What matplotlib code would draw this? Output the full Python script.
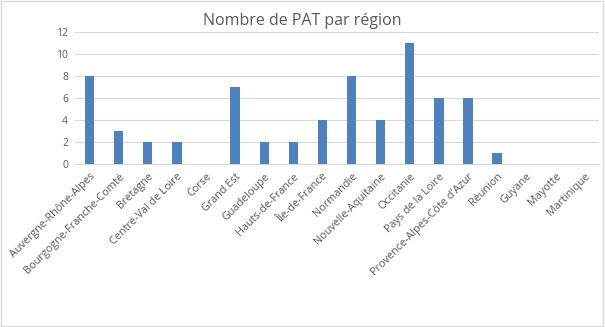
import numpy as np
import matplotlib
matplotlib.use("Agg")
import matplotlib.pyplot as plt
from matplotlib.patches import Rectangle

# data
regions = ["Auvergne-Rhône-Alpes", "Bourgogne-Franche-Comté", "Bretagne",
           "Centre-Val de Loire", "Corse", "Grand Est", "Guadeloupe",
           "Hauts-de-France", "Île-de-France", "Normandie", "Nouvelle-Aquitaine",
           "Occitanie", "Pays de la Loire", "Provence-Alpes-Côte d'Azur",
           "Réunion", "Guyane", "Mayotte", "Martinique"]
counts = [8, 3, 2, 2, 0, 7, 2, 2, 4, 8, 4, 11, 6, 6, 1, 0, 0, 0]
yticks = [0, 2, 4, 6, 8, 10, 12]

plt.rcParams['font.family'] = ['Open Sans', 'DejaVu Sans']
txt = '#595959'

fig = plt.figure(figsize=(6.05, 3.27), dpi=100)
ax = fig.add_axes([0.124, 0.498, 0.866, 0.404])

x = np.arange(len(regions))
ax.bar(x, counts, width=0.32, color='#4F81BD', zorder=3)

ax.set_xlim(-0.5, len(regions) - 0.5)
ax.set_ylim(0, 12)
ax.set_yticks(yticks)
ax.set_yticklabels([str(v) for v in yticks], fontsize=7.5, color=txt)
ax.set_xticks(x)
ax.set_xticklabels(regions, rotation=45, ha='right', rotation_mode='anchor',
                   fontsize=7.8, color=txt)
ax.tick_params(axis='both', length=0, pad=5)
ax.grid(axis='y', color='#d9d9d9', linewidth=0.8, zorder=0)
for s in ['top', 'right', 'left']:
    ax.spines[s].set_visible(False)
ax.spines['bottom'].set_color('#d9d9d9')

fig.text(0.5, 0.937, "Nombre de PAT par région", ha='center', va='center',
         fontsize=11.5, color=txt)

# light border around the chart
fig.patches.append(Rectangle((0.002, 0.003), 0.995, 0.993, transform=fig.transFigure,
                             fill=False, edgecolor='#d9d9d9', linewidth=1))

fig.savefig('out.png', dpi=100)
